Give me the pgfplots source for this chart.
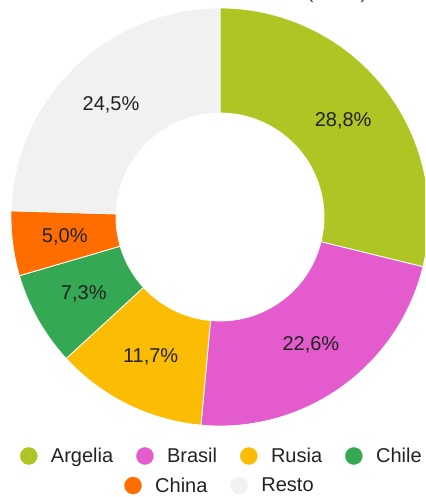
\documentclass[border=0pt]{standalone}
\usepackage{pgfplots}
\pgfplotsset{compat=1.18}
\usepackage{pgfplotstable}
\usepackage{fontspec}
\setmainfont{Liberation Sans}
\definecolor{c0}{HTML}{AFC523}
\definecolor{c1}{HTML}{E35BCD}
\definecolor{c2}{HTML}{FBBC04}
\definecolor{c3}{HTML}{34A853}
\definecolor{c4}{HTML}{FF6D01}
\definecolor{c5}{HTML}{F1F1F1}
\definecolor{labtext}{HTML}{222222}
\definecolor{legtext}{HTML}{222222}
\definecolor{titletext}{HTML}{444444}

\pgfplotstableread{
name value
Argelia 28.8
Brasil 22.6
Rusia 11.7
Chile 7.3
China 5.0
Resto 24.5
}\datatable

\gdef\total{0}
\foreach \i in {0,...,5}{%
  \pgfplotstablegetelem{\i}{value}\of\datatable
  \pgfmathsetmacro\tmpsum{\total+\pgfplotsretval}%
  \xdef\total{\tmpsum}}
\gdef\cum{0}
\foreach \i in {0,...,5}{%
  \pgfplotstablegetelem{\i}{value}\of\datatable
  \expandafter\xdef\csname v\i\endcsname{\pgfplotsretval}%
  \pgfmathsetmacro\angS{90-(\cum/\total)*360}%
  \pgfmathsetmacro\tmpsum{\cum+\pgfplotsretval}%
  \xdef\cum{\tmpsum}%
  \pgfmathsetmacro\angE{90-(\cum/\total)*360}%
  \pgfmathsetmacro\angM{(\angS+\angE)/2}%
  \expandafter\xdef\csname sa\i\endcsname{\angS}%
  \expandafter\xdef\csname ea\i\endcsname{\angE}%
  \expandafter\xdef\csname ma\i\endcsname{\angM}%
}

\begin{document}
\begin{tikzpicture}
\begin{axis}[
  at={(0pt,0pt)}, anchor=south west,
  x=1pt, y=1pt, xmin=0, xmax=425, ymin=0, ymax=497,
  hide axis, clip=true,
  legend columns=4,
  legend cell align=left,
  legend style={draw=none, fill=none, inner sep=0pt,
    at={(0.522,0.0825)}, anchor=center,
    font=\fontsize{20}{24}\selectfont, text=legtext,
    /tikz/every odd column/.style={column sep=11.5pt},
    /tikz/every even column/.style={column sep=21pt}},
]
\pgfplotsinvokeforeach{0,...,5}{%
  \edef\temp{\noexpand\fill[c#1, draw=white, line width=0.8pt]
    ([shift={(\csname sa#1\endcsname:209pt)}]axis cs:220,280)
    arc[start angle=\csname sa#1\endcsname, end angle=\csname ea#1\endcsname, radius=209pt]
    -- ([shift={(\csname ea#1\endcsname:104pt)}]axis cs:220,280)
    arc[start angle=\csname ea#1\endcsname, end angle=\csname sa#1\endcsname, radius=104pt] -- cycle;}%
  \temp
  \edef\temp{\noexpand\node[text=labtext, font=\noexpand\fontsize{20}{24}\noexpand\selectfont]
    at ([shift={(\csname ma#1\endcsname:156.5pt)}]axis cs:220,280)
    {\noexpand\pgfmathprintnumber[fixed, fixed zerofill, precision=1, use comma, assume math mode=true]{\csname v#1\endcsname}\noexpand\%};}%
  \temp
}
\addlegendimage{legend image code/.code={\fill[c0] (0pt,0pt) circle (8.5pt);}}
\addlegendentry{Argelia}
\addlegendimage{legend image code/.code={\fill[c1] (0pt,0pt) circle (8.5pt);}}
\addlegendentry{Brasil}
\addlegendimage{legend image code/.code={\fill[c2] (0pt,0pt) circle (8.5pt);}}
\addlegendentry{Rusia}
\addlegendimage{legend image code/.code={\fill[c3] (0pt,0pt) circle (8.5pt);}}
\addlegendentry{Chile}
\end{axis}
\begin{axis}[
  at={(0pt,0pt)}, anchor=south west,
  x=1pt, y=1pt, xmin=0, xmax=425, ymin=0, ymax=497,
  hide axis,
  legend columns=2,
  legend cell align=left,
  legend style={draw=none, fill=none, inner sep=0pt,
    at={(0.5176,0.0231)}, anchor=center,
    font=\fontsize{20}{24}\selectfont, text=legtext,
    /tikz/every odd column/.style={column sep=11.5pt},
    /tikz/every even column/.style={column sep=21pt}},
]
\addlegendimage{legend image code/.code={\fill[c4] (0pt,0pt) circle (8.5pt);}}
\addlegendentry{China}
\addlegendimage{legend image code/.code={\fill[c5] (0pt,0pt) circle (8.5pt);}}
\addlegendentry{Resto}
\end{axis}
\node[anchor=base, text=titletext, font=\fontsize{20}{24}\selectfont] at (337pt,498pt) {(\hspace*{47pt})};
\pgfresetboundingbox
\useasboundingbox (0pt,0pt) rectangle (425pt,497pt);
\end{tikzpicture}
\end{document}
